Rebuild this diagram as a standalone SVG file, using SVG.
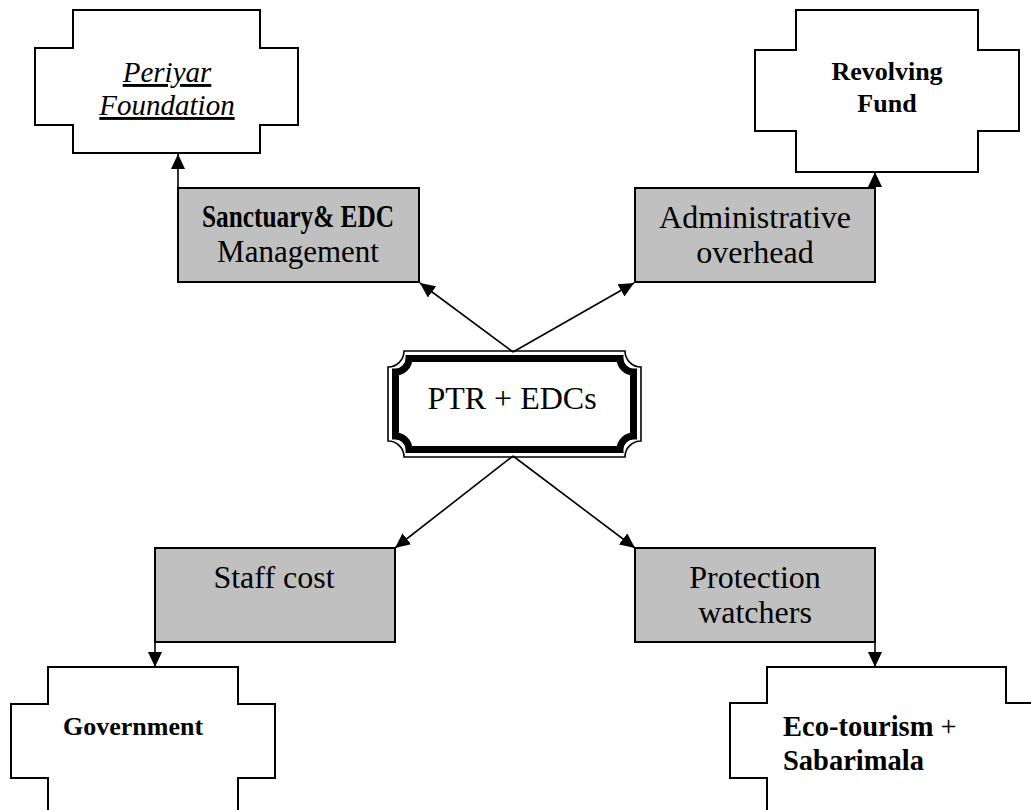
<svg xmlns="http://www.w3.org/2000/svg" width="1031" height="810" viewBox="0 0 1031 810">
<defs>
<style>
.t{font-family:"Liberation Serif","Times New Roman",serif;fill:#000;}
.plus{fill:#fff;stroke:#000;stroke-width:2;}
.grey{fill:#c0c0c0;stroke:#000;stroke-width:2;}
.c{stroke:#000;stroke-width:1.6;fill:none;marker-end:url(#ah);}
</style>
<marker id="ah" markerUnits="userSpaceOnUse" markerWidth="15" markerHeight="14" refX="15" refY="7" orient="auto">
<path d="M0,0 L15,7 L0,14 Z" fill="#000"/>
</marker>
</defs>
<rect width="1031" height="810" fill="#fff"/>

<g id="periyar">
<path class="plus" d="M73,10 H260 V48 H298 V125 H260 V153 H73 V125 H35 V48 H73 Z"/>
<text class="t" x="167" y="82" font-size="29" font-style="italic" text-anchor="middle" text-decoration="underline">Periyar</text>
<text class="t" x="167" y="115" font-size="29" font-style="italic" text-anchor="middle" text-decoration="underline">Foundation</text>
</g>

<g id="revolving">
<path class="plus" d="M796,10 H978 V50 H1019 V131 H978 V172 H796 V131 H755 V50 H796 Z"/>
<text class="t" x="887" y="80" font-size="26" font-weight="bold" text-anchor="middle">Revolving</text>
<text class="t" x="887" y="112" font-size="26" font-weight="bold" text-anchor="middle">Fund</text>
</g>

<g id="sanctuary">
<rect class="grey" x="178" y="188" width="241" height="94"/>
<text class="t" x="298" y="227" font-size="32" font-weight="bold" text-anchor="middle" textLength="192" lengthAdjust="spacingAndGlyphs">Sanctuary&amp; EDC</text>
<text class="t" x="298" y="262" font-size="31" text-anchor="middle">Management</text>
</g>

<g id="admin">
<rect class="grey" x="635" y="188" width="240" height="94"/>
<text class="t" x="755" y="228" font-size="32" text-anchor="middle">Administrative</text>
<text class="t" x="755" y="263" font-size="32" text-anchor="middle">overhead</text>
</g>

<g id="center">
<path d="M404,351 H625 A16,16 0 0 0 641,367 V441 A16,16 0 0 0 625,457 H404 A16,16 0 0 0 388,441 V367 A16,16 0 0 0 404,351 Z" fill="#fff" stroke="#000" stroke-width="1.6"/>
<path d="M409,358.5 H620 A13.5,13.5 0 0 0 633.5,372 V436 A13.5,13.5 0 0 0 620,449.5 H409 A13.5,13.5 0 0 0 395.5,436 V372 A13.5,13.5 0 0 0 409,358.5 Z" fill="#fff" stroke="#000" stroke-width="7"/>
<text class="t" x="512" y="409" font-size="32" text-anchor="middle">PTR + EDCs</text>
</g>

<g id="staff">
<rect class="grey" x="155" y="548" width="240" height="94"/>
<text class="t" x="274" y="588" font-size="32" text-anchor="middle">Staff cost</text>
</g>

<g id="protection">
<rect class="grey" x="635" y="548" width="240" height="94"/>
<text class="t" x="755" y="588" font-size="32" text-anchor="middle">Protection</text>
<text class="t" x="755" y="623" font-size="32" text-anchor="middle">watchers</text>
</g>

<g id="government">
<path class="plus" d="M48,830 V778 H11 V704 H48 V667 H238 V704 H275 V778 H238 V830"/>
<text class="t" x="63" y="735" font-size="26" font-weight="bold">Government</text>
</g>

<g id="ecotourism">
<path class="plus" d="M767,830 V778 H730 V703 H767 V667 H1006 V703 H1045 V778"/>
<text class="t" x="783" y="736" font-size="28.5" font-weight="bold">Eco-tourism <tspan font-weight="normal">+</tspan></text>
<text class="t" x="783" y="770" font-size="28.5" font-weight="bold">Sabarimala</text>
</g>

<g id="connectors">
<line class="c" x1="178" y1="188" x2="178" y2="154"/>
<line class="c" x1="875" y1="188" x2="875" y2="172"/>
<line class="c" x1="155" y1="642" x2="155" y2="667"/>
<line class="c" x1="875" y1="642" x2="875" y2="667"/>
<line class="c" x1="513" y1="352" x2="420" y2="283"/>
<line class="c" x1="513" y1="352" x2="634" y2="283"/>
<line class="c" x1="513" y1="456" x2="395" y2="548"/>
<line class="c" x1="513" y1="456" x2="635" y2="548"/>
</g>
</svg>
